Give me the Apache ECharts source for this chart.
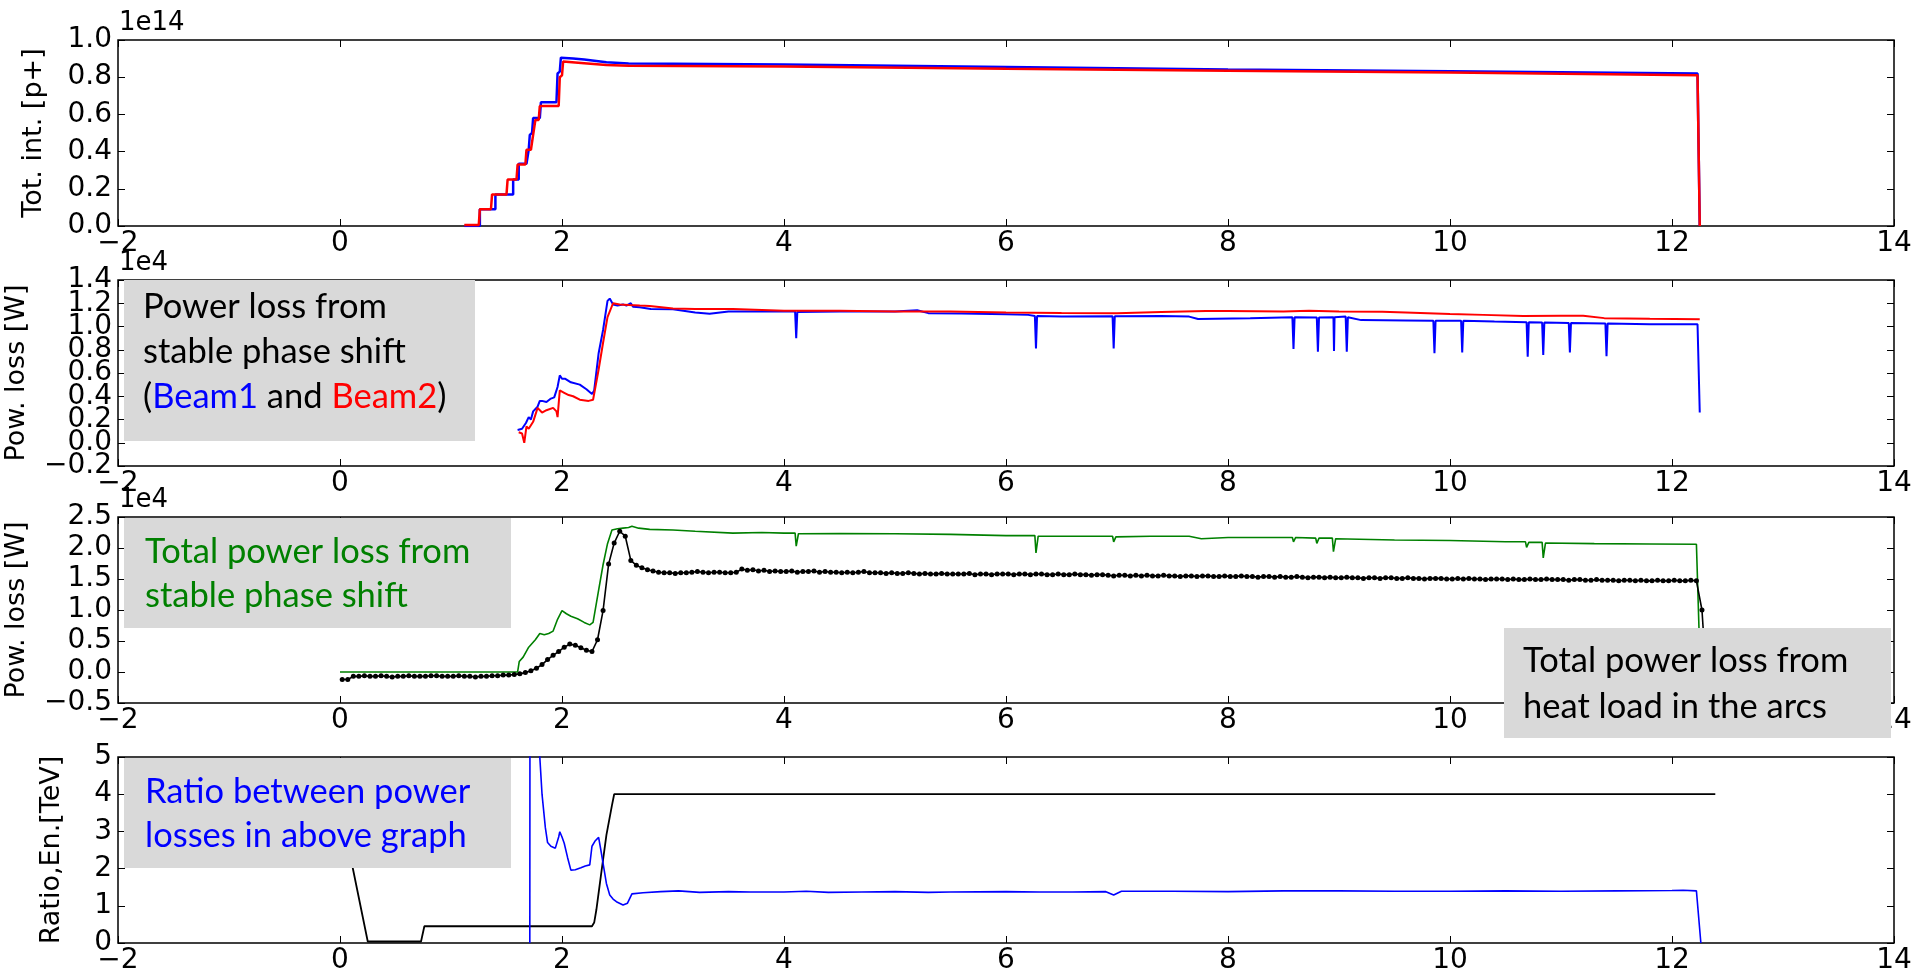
<!DOCTYPE html>
<html><head><meta charset="utf-8">
<script src="https://cdn.jsdelivr.net/npm/echarts@6/dist/echarts.min.js"></script>
<style>html,body{margin:0;padding:0;background:#fff}#c{width:1915px;height:976px}</style>
</head><body><div id="c"></div>
<script>
// x axis (hours)
const xTicks = [-2, 0, 2, 4, 6, 8, 10, 12, 14];

// Panel 1: total intensity, units of 1e14 p+
const beam1Intensity = [[1.12,0],[1.26,0],[1.26,0.09],[1.40,0.09],[1.40,0.17],[1.56,0.17],[1.56,0.25],[1.61,0.25],[1.61,0.335],[1.68,0.335],[1.70,0.41],[1.71,0.49],[1.73,0.50],[1.74,0.58],[1.80,0.58],[1.81,0.665],[1.95,0.665],[1.96,0.82],[1.98,0.83],[1.99,0.905],[2.1,0.90],[2.2,0.895],[2.4,0.88],[2.6,0.874],[3,0.872],[4,0.868],[6,0.855],[8,0.842],[10,0.832],[12.23,0.82],[12.25,0]];
const beam2Intensity = [[1.12,0.005],[1.25,0.005],[1.26,0.09],[1.36,0.09],[1.37,0.17],[1.50,0.17],[1.51,0.25],[1.59,0.25],[1.60,0.33],[1.67,0.33],[1.68,0.41],[1.72,0.41],[1.74,0.49],[1.75,0.49],[1.76,0.57],[1.79,0.57],[1.80,0.645],[1.97,0.645],[1.98,0.80],[2.00,0.81],[2.01,0.884],[2.2,0.875],[2.4,0.865],[2.6,0.862],[4,0.858],[6,0.846],[8,0.835],[10,0.825],[12.23,0.81],[12.25,0]];

// Panel 2: power loss per beam, units of 1e4 W
const beam1Power = [[1.60,0.11],[1.64,0.12],[1.675,0.17],[1.70,0.22],[1.72,0.20],[1.74,0.27],[1.78,0.31],[1.80,0.36],[1.82,0.36],[1.86,0.35],[1.90,0.38],[1.93,0.39],[1.96,0.48],[1.98,0.58],[2.00,0.55],[2.03,0.55],[2.08,0.52],[2.16,0.50],[2.22,0.46],[2.27,0.42],[2.29,0.45],[2.33,0.77],[2.37,0.97],[2.41,1.22],[2.43,1.24],[2.46,1.19],[2.50,1.18],[2.55,1.19],[2.58,1.18],[2.62,1.20],[2.64,1.17],[2.70,1.165],[2.80,1.15],[3.0,1.148],[3.2,1.12],[3.33,1.11],[3.5,1.13],[4.0,1.128],[4.10,1.128],[4.11,0.90],[4.12,1.125],[4.5,1.13],[5.0,1.13],[5.2,1.14],[5.3,1.115],[5.6,1.112],[6.0,1.105],[6.2,1.10],[6.26,1.09],[6.27,0.81],[6.28,1.09],[6.5,1.085],[6.96,1.088],[6.97,0.81],[6.98,1.088],[7.4,1.09],[7.65,1.085],[7.73,1.064],[8.2,1.07],[8.58,1.08],[8.59,0.806],[8.60,1.08],[8.80,1.078],[8.81,0.783],[8.82,1.078],[8.95,1.08],[8.955,0.79],[8.96,1.08],[9.06,1.085],[9.07,0.783],[9.08,1.08],[9.2,1.055],[9.6,1.052],[9.85,1.05],[9.86,0.77],[9.87,1.05],[10.10,1.05],[10.11,0.777],[10.12,1.05],[10.4,1.042],[10.69,1.037],[10.70,0.74],[10.71,1.037],[10.83,1.035],[10.84,0.755],[10.85,1.035],[11.07,1.03],[11.08,0.777],[11.09,1.03],[11.40,1.025],[11.41,0.745],[11.42,1.025],[11.8,1.02],[12.23,1.02],[12.25,0.26]];
const beam2Power = [[1.61,0.09],[1.64,0.08],[1.66,0.0],[1.68,0.14],[1.70,0.12],[1.74,0.18],[1.76,0.24],[1.78,0.30],[1.82,0.26],[1.86,0.28],[1.92,0.30],[1.95,0.27],[1.96,0.22],[1.98,0.45],[2.02,0.43],[2.06,0.41],[2.10,0.40],[2.16,0.37],[2.24,0.36],[2.28,0.37],[2.33,0.63],[2.37,0.86],[2.41,1.08],[2.46,1.20],[2.52,1.19],[2.60,1.185],[2.70,1.18],[2.79,1.176],[3.0,1.155],[3.2,1.15],[3.54,1.15],[4.0,1.136],[4.5,1.135],[5.0,1.13],[5.5,1.128],[6.0,1.12],[6.5,1.116],[7.0,1.114],[7.4,1.125],[7.8,1.134],[8.0,1.134],[8.5,1.13],[8.73,1.135],[9.0,1.13],[9.39,1.126],[9.6,1.12],[10.0,1.107],[10.3,1.10],[10.66,1.09],[11.0,1.092],[11.2,1.093],[11.39,1.072],[11.8,1.066],[12.25,1.062]];

// Panel 3: total power loss from phase shift (green) and heat load (black), units of 1e4 W
const totalPhasePower = [[0.0,0.0],[0.5,0.0],[1.0,0.0],[1.60,0.0],[1.615,0.17],[1.65,0.24],[1.70,0.40],[1.72,0.44],[1.76,0.52],[1.80,0.62],[1.84,0.60],[1.88,0.62],[1.92,0.66],[1.96,0.85],[2.00,0.99],[2.04,0.94],[2.08,0.90],[2.14,0.86],[2.20,0.80],[2.25,0.76],[2.28,0.80],[2.33,1.32],[2.37,1.73],[2.41,2.07],[2.45,2.29],[2.50,2.31],[2.55,2.32],[2.60,2.33],[2.63,2.35],[2.69,2.32],[2.79,2.30],[3.0,2.29],[3.2,2.27],[3.54,2.24],[3.8,2.25],[4.0,2.24],[4.10,2.24],[4.11,2.03],[4.13,2.23],[4.5,2.235],[5.0,2.23],[5.5,2.22],[6.0,2.20],[6.26,2.20],[6.27,1.92],[6.29,2.19],[6.6,2.19],[6.96,2.19],[6.97,2.10],[6.99,2.18],[7.3,2.19],[7.65,2.19],[7.76,2.15],[8.0,2.17],[8.4,2.17],[8.58,2.17],[8.59,2.10],[8.61,2.17],[8.79,2.16],[8.80,2.075],[8.82,2.16],[8.94,2.16],[8.95,1.94],[8.97,2.15],[9.5,2.13],[10.0,2.12],[10.5,2.10],[10.68,2.10],[10.69,2.01],[10.71,2.09],[10.83,2.09],[10.84,1.84],[10.86,2.08],[11.3,2.07],[11.8,2.065],[12.22,2.06],[12.25,0.3]];
const heatLoadStart = 0.02, heatLoadStep = 0.05; // sampling of the heat-load record
const heatLoadPower = [
-0.12,-0.12,-0.07,-0.07,-0.06,-0.07,-0.07,-0.06,-0.07,-0.08,
-0.07,-0.07,-0.06,-0.07,-0.07,-0.07,-0.06,-0.06,-0.07,-0.07,
-0.07,-0.06,-0.07,-0.07,-0.08,-0.07,-0.07,-0.06,-0.06,-0.05,
-0.05,-0.04,-0.03,-0.01,0.02,0.06,0.12,0.20,0.27,0.33,
0.40,0.45,0.43,0.39,0.35,0.33,0.52,0.99,1.74,2.08,
2.27,2.19,1.80,1.72,1.68,1.65,1.63,1.61,1.60,1.60,
1.59,1.60,1.60,1.61,1.62,1.61,1.60,1.61,1.61,1.60,
1.60,1.61,1.66,1.64,1.65,1.63,1.64,1.62,1.63,1.62,
1.62,1.63,1.61,1.62,1.62,1.63,1.61,1.62,1.61,1.61,
1.60,1.61,1.60,1.61,1.62,1.60,1.60,1.60,1.59,1.60,
1.59,1.59,1.60,1.59,1.58,1.59,1.58,1.58,1.59,1.58,
1.58,1.58,1.58,1.59,1.57,1.58,1.58,1.57,1.58,1.58,
1.58,1.57,1.58,1.58,1.57,1.58,1.58,1.57,1.57,1.58,
1.57,1.57,1.58,1.57,1.57,1.56,1.57,1.57,1.56,1.55,
1.56,1.56,1.55,1.56,1.55,1.56,1.55,1.55,1.56,1.55,
1.55,1.54,1.55,1.55,1.54,1.55,1.55,1.54,1.54,1.55,
1.54,1.54,1.55,1.54,1.54,1.53,1.54,1.54,1.53,1.54,
1.53,1.53,1.54,1.53,1.52,1.53,1.53,1.52,1.53,1.52,
1.52,1.53,1.52,1.52,1.51,1.52,1.52,1.51,1.52,1.52,
1.51,1.51,1.52,1.51,1.51,1.50,1.51,1.51,1.51,1.50,
1.50,1.51,1.50,1.51,1.50,1.50,1.49,1.50,1.50,1.50,
1.49,1.50,1.49,1.49,1.50,1.49,1.49,1.50,1.49,1.49,
1.49,1.48,1.49,1.49,1.48,1.48,1.49,1.48,1.48,1.48,
1.47,1.48,1.48,1.47,1.48,1.47,1.47,1.48,1.47,1.47,
1.48,1.47,1.47,1.48,1.47,1.00,-0.40];

// Panel 4: beam energy [TeV] (black) and ratio of power losses (blue)
const beamEnergy = [[0.0,3.7],[0.114,2.03],[0.25,0.04],[0.73,0.04],[0.76,0.45],[2.27,0.45],[2.29,0.55],[2.31,0.9],[2.35,1.8],[2.40,2.9],[2.45,3.7],[2.47,4.0],[12.39,4.0]];
const lossRatio = [[1.71,0.0],[1.712,9],[1.79,7],[1.80,5.0],[1.82,4.0],[1.85,3.1],[1.87,2.7],[1.90,2.6],[1.94,2.55],[1.97,2.85],[1.98,2.99],[2.00,2.85],[2.02,2.68],[2.05,2.3],[2.08,1.96],[2.12,1.97],[2.17,2.02],[2.21,2.07],[2.25,2.10],[2.27,2.6],[2.30,2.75],[2.33,2.84],[2.35,2.5],[2.37,2.14],[2.40,1.6],[2.43,1.29],[2.46,1.18],[2.49,1.11],[2.55,1.02],[2.59,1.07],[2.63,1.32],[2.73,1.35],[2.89,1.38],[3.05,1.40],[3.24,1.36],[3.5,1.38],[3.7,1.37],[4.0,1.37],[4.2,1.39],[4.4,1.36],[4.7,1.37],[5.0,1.38],[5.3,1.36],[5.5,1.37],[6.0,1.38],[6.3,1.37],[6.6,1.37],[6.9,1.38],[6.97,1.29],[7.04,1.39],[7.5,1.39],[8.0,1.38],[8.5,1.40],[9.0,1.40],[9.5,1.39],[10.0,1.39],[10.5,1.40],[11.0,1.39],[11.5,1.40],[12.0,1.41],[12.1,1.42],[12.22,1.40],[12.26,0.0]];

const yTicks1 = [0, 1.0, 0.2];
const yTicks2 = [-0.2, 1.4, 0.2];
const yTicks3 = [-0.5, 2.5, 0.5];
const yTicks4 = [0, 5, 1];

const yLabels = ['Tot. int. [p+]', 'Pow. loss [W]', 'Pow. loss [W]', 'Ratio,En.[TeV]'];
const offsetLabels = ['1e14', '1e4', '1e4', ''];

// ---- layout ----
const L = 118, W = 1776, H = 186;
const tops = [40, 280, 517, 757];
const FONT = 'DejaVu Sans';
const TICKFS = 28;
const minus = s => s.replace('-', '\u2212');

const heatLoadSeries = heatLoadPower.map((v, i) => [heatLoadStart + i * heatLoadStep, v]);

const grids = tops.map(t => ({left: L, top: t, width: W, height: H, show: true, borderColor: '#000', borderWidth: 1.5, backgroundColor: 'transparent'}));

const xAxes = [], yAxes = [];
const yt = [yTicks1, yTicks2, yTicks3, yTicks4];
const dec = [1, 1, 1, 0];
for (let i = 0; i < 4; i++) {
  const tick = {inside: true, length: 7, lineStyle: {color: '#000', width: 1}};
  const base = {type: 'value', gridIndex: i, min: xTicks[0], max: xTicks[xTicks.length - 1], interval: xTicks[1] - xTicks[0],
    axisLine: {show: false, onZero: false}, axisTick: tick, splitLine: {show: false}};
  xAxes.push(Object.assign({}, base, {position: 'bottom', axisLabel: {show: true, showMinLabel: true, showMaxLabel: true, fontSize: TICKFS, fontFamily: FONT, color: '#000', margin: 4,
    formatter: v => minus(String(Math.round(v)))}}));
  xAxes.push(Object.assign({}, base, {position: 'top', axisLabel: {show: false}}));
  const yb = {type: 'value', gridIndex: i, min: yt[i][0], max: yt[i][1], interval: yt[i][2], axisLine: {show: false, onZero: false}, splitLine: {show: false}};
  const d = dec[i];
  const lab = parity => ({show: true, showMinLabel: true, showMaxLabel: true, hideOverlap: false, fontSize: TICKFS, fontFamily: FONT, color: '#000', margin: 6,
    formatter: (v, idx) => (Math.round((v - yt[i][0]) / yt[i][2]) % 2 === parity) ? minus(Number(v).toFixed(d)) : ''});
  // left axis: ticks + even-index labels; a second left axis draws odd-index labels (they overlap, as in the original)
  yAxes.push(Object.assign({}, yb, {position: 'left', axisTick: tick, axisLabel: lab(0)}));
  yAxes.push(Object.assign({}, yb, {position: 'right', axisTick: tick, axisLabel: {show: false}}));
  yAxes.push(Object.assign({}, yb, {position: 'left', axisTick: {show: false}, axisLabel: lab(1)}));
}

function line(data, i, color, width, extra) {
  return Object.assign({type: 'line', data: data, xAxisIndex: 2 * i, yAxisIndex: 3 * i, showSymbol: false, symbol: 'none',
    lineStyle: {color: color, width: width}, itemStyle: {color: color}, animation: false, clip: true, z: 3}, extra || {});
}

const series = [
  line(beam1Intensity, 0, '#0000ff', 2.5),
  line(beam2Intensity, 0, '#ff0000', 2.5),
  line(beam1Power, 1, '#0000ff', 2),
  line(beam2Power, 1, '#ff0000', 2),
  line(totalPhasePower, 2, '#008000', 1.6),
  line(heatLoadSeries, 2, '#000000', 1.6, {symbol: 'circle', symbolSize: 5, showSymbol: true, showAllSymbol: true}),
  line(beamEnergy, 3, '#000000', 1.8),
  line(lossRatio, 3, '#0000ff', 1.6)
];

const centersY = tops.map(t => t + H / 2);
const yLabelX = [34, 17, 17, 52];
const graphic = [];
for (let i = 0; i < 4; i++) {
  graphic.push({type: 'text', x: yLabelX[i], y: centersY[i], rotation: Math.PI / 2, z: 50,
    style: {text: yLabels[i], x: 0, y: 0, font: '27px "DejaVu Sans"', fill: '#000', textAlign: 'center', textVerticalAlign: 'middle'}});
  if (offsetLabels[i]) graphic.push({type: 'text', x: 119, y: tops[i] - 4, z: 50,
    style: {text: offsetLabels[i], font: '26px "DejaVu Sans"', fill: '#000', textAlign: 'left', textVerticalAlign: 'bottom'}});
}
const boxFont = '34.5px Lato';
function box(x, y, w, h) { graphic.push({type: 'rect', shape: {x: x, y: y, width: w, height: h}, style: {fill: '#d9d9d9'}, z: 100}); }
function txt(x, y, s, color) { graphic.push({type: 'text', x: x, y: y, z: 101, style: {text: s, font: boxFont, fill: color, textAlign: 'left', textVerticalAlign: 'middle'}}); }

box(124, 280, 351, 161);
txt(143, 307, 'Power loss from', '#000');
txt(143, 352, 'stable phase shift', '#000');
graphic.push({type: 'text', x: 143, y: 397, z: 101, style: {text: '{k|(}{b|Beam1}{k| and }{r|Beam2}{k|)}', font: boxFont, textAlign: 'left', textVerticalAlign: 'middle',
  rich: {k: {fill: '#000', font: boxFont}, b: {fill: '#0000ff', font: boxFont}, r: {fill: '#ff0000', font: boxFont}}}});

box(124, 518, 387, 110);
txt(145, 552, 'Total power loss from', '#008000');
txt(145, 596, 'stable phase shift', '#008000');

box(124, 758, 387, 110);
txt(145, 792, 'Ratio between power', '#0000ff');
txt(145, 836, 'losses in above graph', '#0000ff');

box(1504, 628, 387, 110);
txt(1523, 661, 'Total power loss from', '#000');
txt(1523, 707, 'heat load in the arcs', '#000');

const chart = echarts.init(document.getElementById('c'), null, {renderer: 'canvas'});
chart.setOption({animation: false, backgroundColor: '#fff', grid: grids, xAxis: xAxes, yAxis: yAxes, series: series, graphic: graphic});
</script></body></html>
